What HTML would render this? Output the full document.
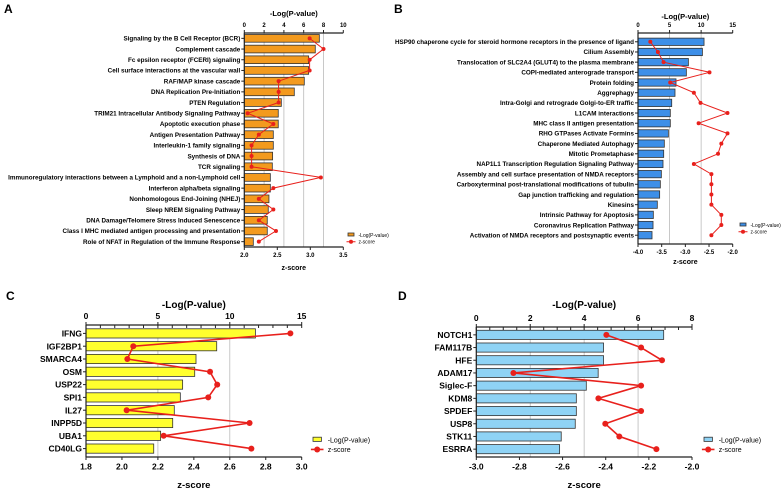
<!DOCTYPE html>
<html><head><meta charset="utf-8"><style>
body{margin:0;background:#fff;}
svg{display:block;font-family:"Liberation Sans",Arial,sans-serif;}
</style></head><body>
<svg id="c" width="784" height="491" viewBox="0 0 784 491"></svg>
<script>
const aCats=["Signaling by the B Cell Receptor (BCR)","Complement cascade","Fc epsilon receptor (FCERI) signaling","Cell surface interactions at the vascular wall","RAF/MAP kinase cascade","DNA Replication Pre-Initiation","PTEN Regulation","TRIM21 Intracellular Antibody Signaling Pathway","Apoptotic execution phase","Antigen Presentation Pathway","Interleukin-1 family signaling","Synthesis of DNA","TCR signaling","Immunoregulatory interactions between a Lymphoid and a non-Lymphoid cell","Interferon alpha/beta signaling","Nonhomologous End-Joining (NHEJ)","Sleep NREM Signaling Pathway","DNA Damage/Telomere Stress Induced Senescence","Class I MHC mediated antigen processing and presentation","Role of NFAT in Regulation of the Immune Response"];
const aLogP=[7.58,7.17,6.5,6.5,6.06,5.05,3.74,3.43,3.43,2.93,2.93,2.86,2.83,2.63,2.63,2.49,2.42,2.32,2.32,0.91];
const aZ=[2.99,3.20,2.99,2.99,2.52,2.52,2.52,2.05,2.44,2.22,2.11,2.11,2.11,3.16,2.44,2.22,2.44,2.22,2.48,2.22];
const aTopTicks=[0,2,4,6,8,10];
const aBotTicks=[2.0,2.5,3.0,3.5];

const bCats=["HSP90 chaperone cycle for steroid hormone receptors in the presence of ligand","Cilium Assembly","Translocation of SLC2A4 (GLUT4) to the plasma membrane","COPI-mediated anterograde transport","Protein folding","Aggrephagy","Intra-Golgi and retrograde Golgi-to-ER traffic","L1CAM interactions","MHC class II antigen presentation","RHO GTPases Activate Formins","Chaperone Mediated Autophagy","Mitotic Prometaphase","NAP1L1 Transcription Regulation Signaling Pathway","Assembly and cell surface presentation of NMDA receptors","Carboxyterminal post-translational modifications of tubulin","Gap junction trafficking and regulation","Kinesins","Intrinsic Pathway for Apoptosis","Coronavirus Replication Pathway","Activation of NMDA receptors and postsynaptic events"];
const bLogP=[10.46,10.2,7.98,7.66,6.02,5.86,5.34,5.12,5.12,4.81,4.17,4.07,3.96,3.70,3.54,3.43,3.06,2.43,2.38,2.22];
const bZ=[-3.74,-3.58,-3.46,-2.49,-3.32,-2.82,-2.68,-2.11,-2.72,-2.11,-2.24,-2.31,-2.82,-2.45,-2.45,-2.45,-2.45,-2.24,-2.24,-2.45];
const bTopTicks=[0,5,10,15];
const bBotTicks=[-4.0,-3.5,-3.0,-2.5,-2.0];

const cCats=["IFNG","IGF2BP1","SMARCA4","OSM","USP22","SPI1","IL27","INPP5D","UBA1","CD40LG"];
const cLogP=[11.78,9.09,7.65,7.56,6.72,6.56,6.14,6.03,5.19,4.71];
const cZ=[2.937,2.063,2.03,2.49,2.53,2.48,2.026,2.71,2.232,2.72];
const cTopTicks=[0,5,10,15];
const cBotTicks=[1.8,2.0,2.2,2.4,2.6,2.8,3.0];

const dCats=["NOTCH1","FAM117B","HFE","ADAM17","Siglec-F","KDM8","SPDEF","USP8","STK11","ESRRA"];
const dLogP=[6.95,4.72,4.72,4.52,4.08,3.71,3.71,3.67,3.15,3.09];
const dZ=[-2.397,-2.236,-2.139,-2.828,-2.236,-2.434,-2.236,-2.402,-2.337,-2.165];
const dTopTicks=[0,2,4,6,8];
const dBotTicks=[-3.0,-2.8,-2.6,-2.4,-2.2,-2.0];

const NS="http://www.w3.org/2000/svg";
const svg=document.getElementById('c');
function mk(tag,attrs,parent,text){const e=document.createElementNS(NS,tag);for(const k in attrs)e.setAttribute(k,attrs[k]);if(text!==undefined)e.textContent=text;(parent||svg).appendChild(e);return e;}

function panel(p){
  const g=mk('g',{});
  
  
  const sx=v=>p.x0+(v-p.t0)/(p.t1-p.t0)*(p.x1-p.x0);
  const sz=v=>p.x0+(v-p.b0)/(p.b1-p.b0)*(p.x1-p.x0);
  const n=p.cats.length;
  const step=(p.bot-p.top-2*p.pad)/n;
  const cy=i=>p.top+p.pad+(i+0.5)*step;
  const lab=mk('text',{x:p.lx,y:p.ly,'font-size':12,'font-weight':'bold'},g,p.id);
  
  
  // grid
  p.grid.forEach(v=>{const l=mk('line',{x1:sx(v),x2:sx(v),y1:p.top,y2:p.bot,stroke:'#bbb','stroke-width':0.8},g);
    
    });
  // bars
  p.logp.forEach((v,i)=>{const h=step*0.72;const r=mk('rect',{x:p.x0,y:cy(i)-h/2,width:sx(v)-p.x0,height:h,fill:p.color,stroke:'#333','stroke-width':0.8},g);
    
    });
  // axes
  mk('line',{x1:p.x0,x2:p.x1,y1:p.top,y2:p.top,stroke:'#222','stroke-width':1.2},g);
  mk('line',{x1:p.x0,x2:p.x1,y1:p.bot,y2:p.bot,stroke:'#222','stroke-width':1.2},g);
  mk('line',{x1:p.x0,x2:p.x0,y1:p.top,y2:p.bot,stroke:'#222','stroke-width':1.2},g);
  p.ttick.forEach(v=>{mk('line',{x1:sx(v),x2:sx(v),y1:p.top,y2:p.top-3,stroke:'#222'},g);
    const t=mk('text',{x:sx(v),y:p.top-6,'font-size':p.tfs,'font-weight':'bold','text-anchor':'middle'},g,String(v));
    
    });
  if(p.minor){for(let v=p.t0;v<=p.t1;v+=p.minor)mk('line',{x1:sx(v),x2:sx(v),y1:p.top,y2:p.top+3,stroke:'#222'},g);}
  p.btick.forEach(v=>{mk('line',{x1:sz(v),x2:sz(v),y1:p.bot,y2:p.bot+3,stroke:'#222'},g);
    const t=mk('text',{x:sz(v),y:p.bot+p.tfs+4,'font-size':p.tfs,'font-weight':'bold','text-anchor':'middle'},g,v.toFixed(1));
    
    });
  const tt=mk('text',{x:(p.x0+p.x1)/2,y:p.titleY,'font-size':p.tfs+1.5,'font-weight':'bold','text-anchor':'middle'},g,'-Log(P-value)');
  
  
  const bt=mk('text',{x:(p.x0+p.x1)/2,y:p.zY,'font-size':p.tfs+1,'font-weight':'bold','text-anchor':'middle'},g,'z-score');
  
  
  // categories
  p.cats.forEach((c,i)=>{mk('line',{x1:p.x0-3,x2:p.x0,y1:cy(i),y2:cy(i),stroke:'#222'},g);
    const t=mk('text',{x:p.x0-4,y:cy(i)+p.cfs*0.36,'font-size':p.cfs,'font-weight':'bold','text-anchor':'end'},g,c);
    
    });
  // z line
  const pts=p.z.map((v,i)=>sz(v).toFixed(1)+','+cy(i).toFixed(1)).join(' ');
  const pl=mk('polyline',{points:pts,fill:'none',stroke:'#e8201c','stroke-width':p.lw},g);
  
  
  p.z.forEach((v,i)=>{const c=mk('circle',{cx:sz(v),cy:cy(i),r:p.mr,fill:'#e8201c'},g);
    
    });
  // legend
  const lg=mk('g',{},g);
  
  
  mk('rect',{x:p.legX,y:p.legY-p.lfs*0.4,width:p.lfs*1.2,height:p.lfs*0.6,fill:p.color,stroke:'#333','stroke-width':0.8},lg);
  mk('text',{x:p.legX+p.lfs*2.1,y:p.legY+p.lfs*0.35,'font-size':p.lfs},lg,'-Log(P-value)');
  const y2=p.legY+p.lfs*1.35;
  mk('line',{x1:p.legX-p.lfs*0.3,x2:p.legX+p.lfs*1.5,y1:y2,y2:y2,stroke:'#e8201c','stroke-width':p.lw},lg);
  mk('circle',{cx:p.legX+p.lfs*0.6,cy:y2,r:p.mr,fill:'#e8201c'},lg);
  mk('text',{x:p.legX+p.lfs*2.1,y:y2+p.lfs*0.35,'font-size':p.lfs},lg,'z-score');
}

panel({id:'A',lx:4,ly:13,cats:aCats,logp:aLogP,z:aZ,ttick:aTopTicks,btick:aBotTicks,t0:0,t1:10,b0:2,b1:3.5,
  x0:244.3,x1:343.3,top:33,bot:247,pad:0,grid:[2,4,6,8],color:'#f39a1e',tfs:6,cfs:6.3,titleY:16,zY:270,
  lw:1,mr:2,legX:348,legY:235,lfs:5,minor:0});
panel({id:'B',lx:394,ly:13,cats:bCats,logp:bLogP,z:bZ,ttick:bTopTicks,btick:bBotTicks,t0:0,t1:15,b0:-4,b1:-2,
  x0:638,x1:732.7,top:33,bot:244,pad:3.7,grid:[5,10],color:'#3d8fe8',tfs:6,cfs:6.3,titleY:19,zY:264,
  lw:1,mr:2,legX:740,legY:225,lfs:5,minor:0});
panel({id:'C',lx:6,ly:300,cats:cCats,logp:cLogP,z:cZ,ttick:cTopTicks,btick:cBotTicks,t0:0,t1:15,b0:1.8,b1:3.0,
  x0:86,x1:301.7,top:325,bot:457,pad:2,grid:[5,10],color:'#ffff2e',tfs:8.5,cfs:8.5,titleY:308,zY:488,
  lw:1.6,mr:3,legX:313,legY:440,lfs:7,minor:1});
panel({id:'D',lx:398,ly:300,cats:dCats,logp:dLogP,z:dZ,ttick:dTopTicks,btick:dBotTicks,t0:0,t1:8,b0:-3,b1:-2,
  x0:476.3,x1:692,top:327,bot:457,pad:1.5,grid:[2,4,6],color:'#8fd3f5',tfs:8.5,cfs:8.5,titleY:308,zY:488,
  lw:1.6,mr:3,legX:704,legY:440,lfs:7,minor:0.5});
</script>
</body></html>
